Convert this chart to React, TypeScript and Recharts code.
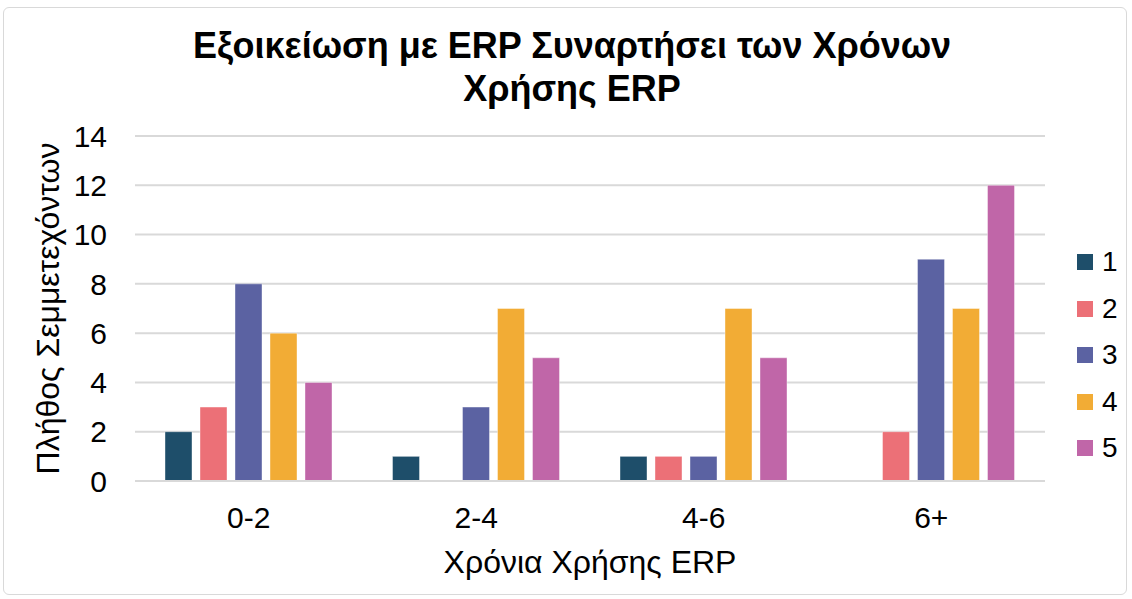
import React from 'react';
import { BarChart, Bar, XAxis, YAxis, CartesianGrid } from 'recharts';

const categories = ['0-2', '2-4', '4-6', '6+'];
const seriesNames = ['1', '2', '3', '4', '5'];
const s1 = [2, 1, 1, 0];
const s2 = [3, 0, 1, 2];
const s3 = [8, 3, 1, 9];
const s4 = [6, 7, 7, 7];
const s5 = [4, 5, 5, 12];
const yTicks = [0, 2, 4, 6, 8, 10, 12, 14];
const colors = ['#1e4e6a', '#ec7077', '#5b62a2', '#f2ac35', '#c066a8'];

const series = [s1, s2, s3, s4, s5];
const data = categories.map((c, i) => {
  const row: any = { cat: c };
  seriesNames.forEach((n, j) => {
    row[n] = series[j][i];
  });
  return row;
});

const font = 'Arial, "Liberation Sans", sans-serif';

export default function App() {
  return (
    <div style={{ position: 'absolute', left: 0, top: 0, width: 1132, height: 599, background: '#fff', fontFamily: font }}>
      <div
        style={{
          position: 'absolute', left: 3, top: 7, width: 1124, height: 588,
          border: '1.5px solid #d9d9d9', borderRadius: 6, boxSizing: 'border-box',
        }}
      />
      <div
        style={{
          position: 'absolute', left: 0, top: 24, width: 1144, textAlign: 'center',
          fontSize: 36, fontWeight: 'bold', lineHeight: '43px', color: '#000',
        }}
      >
        Εξοικείωση με ERP Συναρτήσει των Χρόνων<br />Χρήσης ERP
      </div>
      <BarChart
        width={1132}
        height={599}
        data={data}
        margin={{ top: 136, right: 87, left: 0, bottom: 0 }}
        barGap={8}
        barCategoryGap={30}
        style={{ position: 'absolute', left: 0, top: 0 }}
      >
        <CartesianGrid vertical={false} stroke="#d9d9d9" strokeWidth={2} />
        <XAxis
          dataKey="cat"
          height={118}
          axisLine={{ stroke: '#d9d9d9', strokeWidth: 2 }}
          tickLine={false}
          tickMargin={20}
          tick={{ fill: '#000', fontSize: 30, fontFamily: font }}
          label={{ value: 'Χρόνια Χρήσης ERP', position: 'insideBottom', offset: 26, fill: '#000', fontSize: 32, fontFamily: font }}
        />
        <YAxis
          width={135}
          domain={[0, 14]}
          ticks={yTicks}
          axisLine={false}
          tickLine={false}
          tickMargin={22}
          tick={{ fill: '#000', fontSize: 30, fontFamily: font }}
          label={{
            value: 'Πλήθος Σεμμετεχόντων', angle: -90, position: 'insideLeft', offset: 48,
            fill: '#000', fontSize: 32, fontFamily: font, style: { textAnchor: 'middle' },
          }}
        />
        {seriesNames.map((n, j) => (
          <Bar key={n} dataKey={n} name={n} fill={colors[j]} barSize={27} stroke="#ffffff" strokeOpacity={0.4} isAnimationActive={false} />
        ))}
      </BarChart>
      <div style={{ position: 'absolute', left: 1077, top: 239 }}>
        {seriesNames.map((n, j) => (
          <div key={n} style={{ display: 'flex', alignItems: 'center', height: 46.5 }}>
            <span style={{ width: 16, height: 16, background: colors[j], display: 'inline-block', marginRight: 9 }} />
            <span style={{ fontSize: 28, color: '#000' }}>{n}</span>
          </div>
        ))}
      </div>
    </div>
  );
}
